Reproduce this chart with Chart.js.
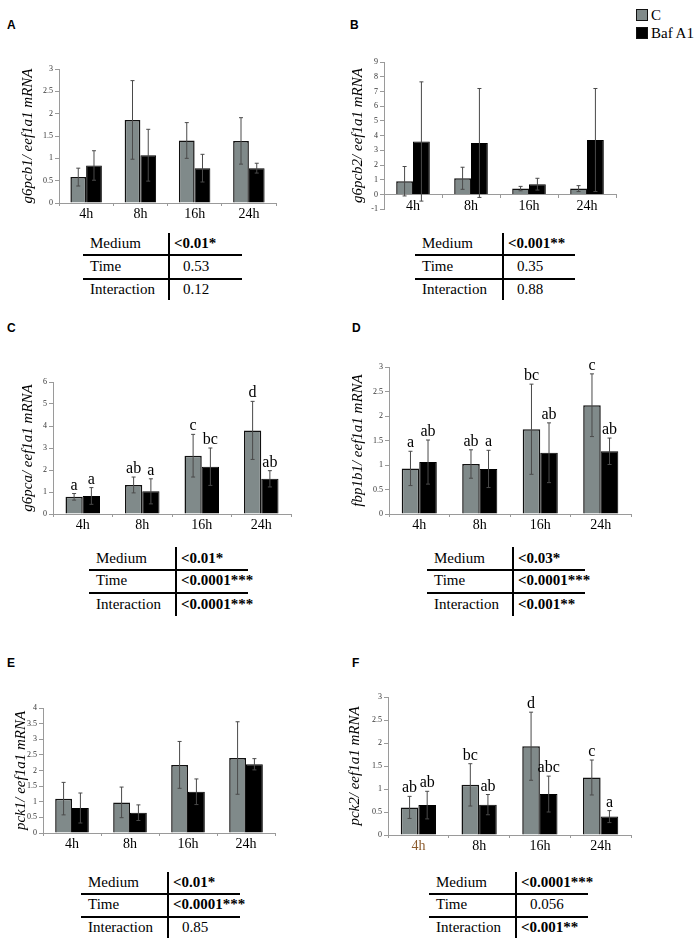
<!DOCTYPE html>
<html>
<head>
<meta charset="utf-8">
<script src="https://cdn.jsdelivr.net/npm/chart.js@4.4.1/dist/chart.umd.min.js"></script>
<style>
  body { margin: 0; background: #fff; width: 700px; height: 946px; position: relative; overflow: hidden; font-family: "Liberation Serif", "Times New Roman", serif; }
  canvas { position: absolute; }
  .letter { position: absolute; font: bold 12px "Liberation Sans", Arial, sans-serif; color: #000; line-height: 12px; }
  .ln { position: absolute; background: #000; }
  .cell { position: absolute; font: 15px "Liberation Serif", "Times New Roman", serif; color: #000; white-space: nowrap; }
  .cell.sig { font-weight: bold; }
  .lg { position: absolute; font: 15px "Liberation Serif", "Times New Roman", serif; line-height: 15px; }
  .sw { position: absolute; width: 12px; height: 12px; box-sizing: border-box; border: 1px solid #111; }
</style>
</head>
<body>
<script>
  "use strict";

  var times = ["4h", "8h", "16h", "24h"];
  var rowNames = ["Medium", "Time", "Interaction"];

  // A  g6pcb1
  var aCtrl = [0.58, 1.86, 1.40, 1.39];
  var aCtrlErr = [0.20, 0.88, 0.40, 0.52];
  var aBaf = [0.84, 1.07, 0.78, 0.78];
  var aBafErr = [0.33, 0.58, 0.31, 0.11];
  var aStats = ["<0.01*", "0.53", "0.12"];

  // B  g6pcb2
  var bCtrl = [0.90, 1.10, 0.40, 0.40];
  var bCtrlErr = [1.00, 0.75, 0.15, 0.20];
  var bBaf = [3.60, 3.50, 0.70, 3.70];
  var bBafErr = [4.05, 3.70, 0.40, 3.50];
  var bStats = ["<0.001**", "0.35", "0.88"];

  // C  g6pca
  var cCtrl = [0.78, 1.32, 2.65, 3.80];
  var cCtrlErr = [0.15, 0.36, 0.97, 1.32];
  var cBaf = [0.82, 1.03, 2.15, 1.60];
  var cBafErr = [0.38, 0.57, 0.85, 0.37];
  var cCtrlLetters = ["a", "ab", "c", "d"];
  var cBafLetters = ["a", "a", "bc", "ab"];
  var cStats = ["<0.01*", "<0.0001***", "<0.0001***"];

  // D  fbp1b1
  var dCtrl = [0.93, 1.02, 1.73, 2.22];
  var dCtrlErr = [0.35, 0.29, 0.92, 0.64];
  var dBaf = [1.06, 0.92, 1.25, 1.28];
  var dBafErr = [0.45, 0.38, 0.61, 0.27];
  var dCtrlLetters = ["a", "ab", "bc", "c"];
  var dBafLetters = ["ab", "a", "ab", "ab"];
  var dStats = ["<0.03*", "<0.0001***", "<0.001**"];

  // E  pck1
  var eCtrl = [1.10, 0.98, 2.18, 2.40];
  var eCtrlErr = [0.52, 0.49, 0.75, 1.16];
  var eBaf = [0.80, 0.65, 1.32, 2.20];
  var eBafErr = [0.48, 0.25, 0.41, 0.18];
  var eStats = ["<0.01*", "<0.0001***", "0.85"];

  // F  pck2
  var fCtrl = [0.60, 1.09, 1.93, 1.25];
  var fCtrlErr = [0.24, 0.46, 0.74, 0.38];
  var fBaf = [0.65, 0.66, 0.89, 0.40];
  var fBafErr = [0.30, 0.22, 0.39, 0.13];
  var fCtrlLetters = ["ab", "bc", "d", "c"];
  var fBafLetters = ["ab", "ab", "abc", "a"];
  var fStats = ["<0.0001***", "0.056", "<0.001**"];

  var GRAY = "#808a8a", AXIS = "#9a9a9a";
  var SERIF = "'Liberation Serif', 'Times New Roman', serif";

  // error bars + significance letters drawn from the bar elements
  var errorBars = {
    id: "errorBars",
    afterDatasetsDraw: function (chart) {
      var ctx = chart.ctx, y = chart.scales.y;
      chart.data.datasets.forEach(function (ds, di) {
        chart.getDatasetMeta(di).data.forEach(function (bar, i) {
          var v = ds.data[i], e = ds.errors[i];
          var top = y.getPixelForValue(v + e), bot = y.getPixelForValue(v - e);
          ctx.save();
          ctx.strokeStyle = "#4a4a4a";
          ctx.lineWidth = 1;
          ctx.beginPath();
          ctx.moveTo(bar.x, top); ctx.lineTo(bar.x, bot);
          ctx.moveTo(bar.x - 2, top); ctx.lineTo(bar.x + 2, top);
          ctx.moveTo(bar.x - 2, bot); ctx.lineTo(bar.x + 2, bot);
          ctx.stroke();
          if (ds.letters) {
            ctx.fillStyle = "#000";
            ctx.font = "16px " + SERIF;
            ctx.textAlign = "center";
            ctx.textBaseline = "alphabetic";
            ctx.fillText(ds.letters[i], bar.x, top - 4);
          }
          ctx.restore();
        });
      });
    }
  };

  function makeChart(p) {
    var padTop = 10, xH = 27;
    var cLeft = Math.round(p.titleX - 12.4);
    var yW = p.x0 - cLeft;
    var cTop = p.yTop - padTop;
    var cW = p.x1 - cLeft + 4;
    var cH = p.yBot - p.yTop + padTop + (p.axisAtZero ? 4 : xH);
    var cv = document.createElement("canvas");
    cv.width = cW; cv.height = cH;
    cv.style.left = cLeft + "px"; cv.style.top = cTop + "px";
    cv.style.width = cW + "px"; cv.style.height = cH + "px";
    document.body.appendChild(cv);

    new Chart(cv, {
      type: "bar",
      data: {
        labels: times,
        datasets: [
          { label: "C", data: p.ctrl, errors: p.ctrlErr, letters: p.ctrlLetters, backgroundColor: GRAY, borderColor: "#111", borderWidth: 1.5, categoryPercentage: 0.58, barPercentage: 1 },
          { label: "Baf A1", data: p.baf, errors: p.bafErr, letters: p.bafLetters, backgroundColor: "#000", borderColor: "#000", borderWidth: 1, categoryPercentage: 0.58, barPercentage: 1 }
        ]
      },
      options: {
        responsive: false,
        animation: false,
        devicePixelRatio: 1,
        layout: { padding: { top: padTop, right: 4, left: 0, bottom: p.axisAtZero ? 4 : 0 } },
        plugins: { legend: { display: false }, tooltip: { enabled: false } },
        scales: {
          x: {
            position: p.axisAtZero ? { y: 0 } : "bottom",
            grid: { drawOnChartArea: false, drawTicks: true, tickLength: 3, color: AXIS },
            border: { color: AXIS },
            ticks: {
              padding: 0,
              font: { family: SERIF, size: 14 },
              color: function (c) { return (p.firstTickColor && c.index === 0) ? p.firstTickColor : "#000"; }
            },
            afterFit: function (s) { if (!p.axisAtZero) s.height = xH; }
          },
          y: {
            min: p.min, max: p.max,
            ticks: {
              stepSize: p.step, padding: 2, font: { family: SERIF, size: 8 }, color: "#333",
              callback: function (v) { return String(Math.round(v * 100) / 100); }
            },
            grid: { drawOnChartArea: false, tickLength: 4, color: AXIS },
            border: { color: AXIS },
            title: { display: true, text: p.title, color: "#000", padding: { top: 4, bottom: 0 },
              font: { family: SERIF, style: "italic", size: 15 } },
            afterFit: function (s) { s.width = yW; }
          }
        }
      },
      plugins: [errorBars]
    });
  }

  function makeTable(stats, t) {
    function line(x, y, w, h) {
      var d = document.createElement("div");
      d.className = "ln";
      d.style.left = x + "px"; d.style.top = y + "px";
      d.style.width = w + "px"; d.style.height = h + "px";
      document.body.appendChild(d);
    }
    line(t.left, t.h1, t.right - t.left, 1.5);
    line(t.left, t.h2, t.right - t.left, 1.5);
    line(t.mid, t.top, 1.5, t.bottom - t.top);
    var edges = [t.top, t.h1, t.h2, t.bottom];
    rowNames.forEach(function (name, i) {
      var h = edges[i + 1] - edges[i];
      var a = document.createElement("div");
      a.className = "cell";
      a.textContent = name;
      a.style.left = (t.left + 7) + "px"; a.style.top = edges[i] + "px";
      a.style.lineHeight = h + "px";
      document.body.appendChild(a);
      var b = document.createElement("div");
      var sig = stats[i].charAt(0) === "<";
      b.className = "cell" + (sig ? " sig" : "");
      b.textContent = stats[i];
      b.style.left = (t.mid + (sig ? 6 : 15)) + "px"; b.style.top = edges[i] + "px";
      b.style.lineHeight = h + "px";
      document.body.appendChild(b);
    });
  }

  function letter(txt, x, y) {
    var d = document.createElement("div");
    d.className = "letter";
    d.textContent = txt;
    d.style.left = x + "px"; d.style.top = y + "px";
    document.body.appendChild(d);
  }

  makeChart({ x0: 59, x1: 276, yTop: 69, yBot: 203, titleX: 27, min: 0, max: 3, step: 0.5,
    title: "g6pcb1/ eef1a1 mRNA", ctrl: aCtrl, ctrlErr: aCtrlErr, baf: aBaf, bafErr: aBafErr });
  makeChart({ x0: 384, x1: 616, yTop: 62, yBot: 212, titleX: 357, min: -1, max: 9, step: 1, axisAtZero: true,
    title: "g6pcb2/ eef1a1 mRNA", ctrl: bCtrl, ctrlErr: bCtrlErr, baf: bBaf, bafErr: bBafErr });
  makeChart({ x0: 53, x1: 291, yTop: 382, yBot: 514, titleX: 27, min: 0, max: 6, step: 1,
    title: "g6pca/ eef1a1 mRNA", ctrl: cCtrl, ctrlErr: cCtrlErr, baf: cBaf, bafErr: cBafErr,
    ctrlLetters: cCtrlLetters, bafLetters: cBafLetters });
  makeChart({ x0: 389, x1: 631, yTop: 367, yBot: 514, titleX: 357, min: 0, max: 3, step: 0.5,
    title: "fbp1b1/ eef1a1 mRNA", ctrl: dCtrl, ctrlErr: dCtrlErr, baf: dBaf, bafErr: dBafErr,
    ctrlLetters: dCtrlLetters, bafLetters: dBafLetters });
  makeChart({ x0: 43, x1: 275, yTop: 708, yBot: 833, titleX: 20, min: 0, max: 4, step: 0.5,
    title: "pck1/ eef1a1 mRNA", ctrl: eCtrl, ctrlErr: eCtrlErr, baf: eBaf, bafErr: eBafErr });
  makeChart({ x0: 388, x1: 631, yTop: 697, yBot: 835, titleX: 354, min: 0, max: 3, step: 0.5, firstTickColor: "#8b5a2b",
    title: "pck2/ eef1a1 mRNA", ctrl: fCtrl, ctrlErr: fCtrlErr, baf: fBaf, bafErr: fBafErr,
    ctrlLetters: fCtrlLetters, bafLetters: fBafLetters });

  makeTable(aStats, { left: 83, mid: 168, right: 242, top: 233, h1: 254, h2: 278, bottom: 300 });
  makeTable(bStats, { left: 415, mid: 502, right: 575, top: 233, h1: 254, h2: 278, bottom: 300 });
  makeTable(cStats, { left: 89, mid: 175, right: 248, top: 547, h1: 569, h2: 592, bottom: 616 });
  makeTable(dStats, { left: 427, mid: 512, right: 585, top: 547, h1: 569, h2: 592, bottom: 616 });
  makeTable(eStats, { left: 81, mid: 167, right: 240, top: 872, h1: 893, h2: 916, bottom: 938 });
  makeTable(fStats, { left: 429, mid: 515, right: 588, top: 872, h1: 893, h2: 916, bottom: 938 });

  letter("A", 7, 19);
  letter("B", 350, 19);
  letter("C", 7, 322);
  letter("D", 352, 322);
  letter("E", 7, 657);
  letter("F", 352, 657);

  // legend
  var legend = [["C", GRAY, 9], ["Baf A1", "#000", 27]];
  legend.forEach(function (l) {
    var s = document.createElement("div");
    s.className = "sw";
    s.style.left = "636px"; s.style.top = l[2] + "px"; s.style.background = l[1];
    document.body.appendChild(s);
    var t = document.createElement("div");
    t.className = "lg";
    t.textContent = l[0];
    t.style.left = "651px"; t.style.top = (l[2] - 1) + "px";
    document.body.appendChild(t);
  });
</script>
</body>
</html>
